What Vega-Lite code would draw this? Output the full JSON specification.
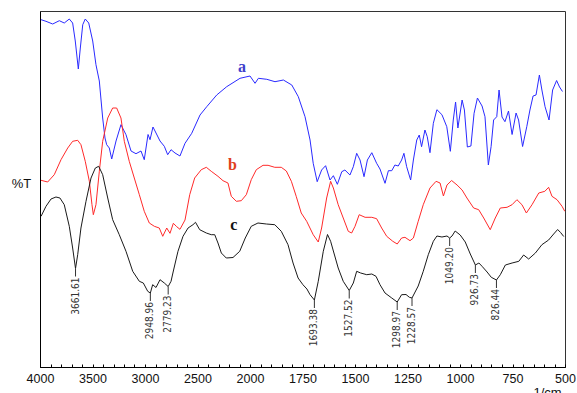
{
  "$schema": "https://vega.github.io/schema/vega-lite/v6.json",
  "width": 525,
  "height": 356,
  "autosize": "none",
  "padding": {"left": 40, "top": 11, "right": 12, "bottom": 26},
  "background": "white",
  "config": {"view": {"stroke": "#333", "strokeWidth": 1}},
  "data": {"values": [
    {"s":"a","w":3990,"t":347.3},{"s":"a","w":3943,"t":345.7},{"s":"a","w":3879,"t":343},{"s":"a","w":3816,"t":346.3},{"s":"a","w":3769,"t":344},{"s":"a","w":3721,"t":348},{"s":"a","w":3689,"t":344},{"s":"a","w":3664,"t":326},{"s":"a","w":3635,"t":298},{"s":"a","w":3616,"t":319},{"s":"a","w":3593,"t":342.3},{"s":"a","w":3569,"t":348},{"s":"a","w":3536,"t":344},{"s":"a","w":3498,"t":326},{"s":"a","w":3467,"t":302.3},{"s":"a","w":3435,"t":286},{"s":"a","w":3403,"t":249},{"s":"a","w":3381,"t":229},{"s":"a","w":3365,"t":222.3},{"s":"a","w":3340,"t":219},{"s":"a","w":3317,"t":208},{"s":"a","w":3276,"t":226},{"s":"a","w":3229,"t":242.3},{"s":"a","w":3181,"t":232.3},{"s":"a","w":3133,"t":216},{"s":"a","w":3086,"t":213.3},{"s":"a","w":3038,"t":216},{"s":"a","w":3007,"t":207.3},{"s":"a","w":2971,"t":232.5},{"s":"a","w":2952,"t":227.3},{"s":"a","w":2924,"t":240},{"s":"a","w":2895,"t":234},{"s":"a","w":2857,"t":226},{"s":"a","w":2816,"t":220.7},{"s":"a","w":2784,"t":212.3},{"s":"a","w":2752,"t":217.3},{"s":"a","w":2714,"t":214},{"s":"a","w":2667,"t":211},{"s":"a","w":2619,"t":223.7},{"s":"a","w":2555,"t":233.7},{"s":"a","w":2476,"t":252},{"s":"a","w":2412,"t":260.3},{"s":"a","w":2317,"t":272},{"s":"a","w":2222,"t":280.3},{"s":"a","w":2095,"t":288.7},{"s":"a","w":2000,"t":291},{"s":"a","w":1976,"t":283.7},{"s":"a","w":1960,"t":288.7},{"s":"a","w":1920,"t":287.7},{"s":"a","w":1881,"t":285.3},{"s":"a","w":1841,"t":287},{"s":"a","w":1801,"t":282},{"s":"a","w":1770,"t":270.3},{"s":"a","w":1738,"t":250.3},{"s":"a","w":1714,"t":227},{"s":"a","w":1699,"t":203.7},{"s":"a","w":1680,"t":185.3},{"s":"a","w":1659,"t":197},{"s":"a","w":1640,"t":201.3},{"s":"a","w":1619,"t":187},{"s":"a","w":1603,"t":191.3},{"s":"a","w":1584,"t":182.7},{"s":"a","w":1563,"t":195.3},{"s":"a","w":1548,"t":197},{"s":"a","w":1524,"t":192},{"s":"a","w":1508,"t":200.3},{"s":"a","w":1492,"t":213.7},{"s":"a","w":1476,"t":207},{"s":"a","w":1457,"t":190.3},{"s":"a","w":1441,"t":207},{"s":"a","w":1420,"t":214.3},{"s":"a","w":1397,"t":203.7},{"s":"a","w":1381,"t":198},{"s":"a","w":1357,"t":183.7},{"s":"a","w":1341,"t":196.3},{"s":"a","w":1325,"t":196.3},{"s":"a","w":1310,"t":202},{"s":"a","w":1294,"t":201},{"s":"a","w":1278,"t":207},{"s":"a","w":1267,"t":213.7},{"s":"a","w":1254,"t":200.3},{"s":"a","w":1235,"t":187},{"s":"a","w":1222,"t":207},{"s":"a","w":1206,"t":227},{"s":"a","w":1194,"t":232},{"s":"a","w":1183,"t":220.3},{"s":"a","w":1167,"t":237},{"s":"a","w":1156,"t":230.3},{"s":"a","w":1143,"t":214.3},{"s":"a","w":1127,"t":243.7},{"s":"a","w":1110,"t":257.3},{"s":"a","w":1086,"t":252.3},{"s":"a","w":1063,"t":240.3},{"s":"a","w":1046,"t":215.7},{"s":"a","w":1032,"t":247},{"s":"a","w":1021,"t":265},{"s":"a","w":1010,"t":239},{"s":"a","w":990,"t":267},{"s":"a","w":979,"t":257},{"s":"a","w":965,"t":220},{"s":"a","w":948,"t":221},{"s":"a","w":933,"t":253.7},{"s":"a","w":917,"t":269},{"s":"a","w":895,"t":261},{"s":"a","w":881,"t":250.3},{"s":"a","w":865,"t":202},{"s":"a","w":852,"t":220.3},{"s":"a","w":840,"t":247},{"s":"a","w":825,"t":250.3},{"s":"a","w":814,"t":277},{"s":"a","w":800,"t":250},{"s":"a","w":786,"t":245.3},{"s":"a","w":769,"t":256},{"s":"a","w":752,"t":232.5},{"s":"a","w":733,"t":254},{"s":"a","w":721,"t":247},{"s":"a","w":702,"t":220.5},{"s":"a","w":682,"t":240.3},{"s":"a","w":667,"t":257},{"s":"a","w":652,"t":271},{"s":"a","w":638,"t":272},{"s":"a","w":622,"t":292},{"s":"a","w":610,"t":277},{"s":"a","w":595,"t":260.3},{"s":"a","w":576,"t":247},{"s":"a","w":559,"t":277},{"s":"a","w":540,"t":286.5},{"s":"a","w":526,"t":280},{"s":"a","w":512,"t":275.5},

    {"s":"b","w":3990,"t":186.7},{"s":"b","w":3927,"t":185},{"s":"b","w":3864,"t":192.3},{"s":"b","w":3800,"t":207.3},{"s":"b","w":3736,"t":219},{"s":"b","w":3689,"t":225.7},{"s":"b","w":3641,"t":226.7},{"s":"b","w":3610,"t":222.3},{"s":"b","w":3569,"t":205.7},{"s":"b","w":3530,"t":185.7},{"s":"b","w":3505,"t":162.3},{"s":"b","w":3492,"t":152.3},{"s":"b","w":3467,"t":162.3},{"s":"b","w":3435,"t":195.7},{"s":"b","w":3403,"t":225.7},{"s":"b","w":3355,"t":249},{"s":"b","w":3308,"t":259},{"s":"b","w":3270,"t":259},{"s":"b","w":3229,"t":249},{"s":"b","w":3197,"t":225.7},{"s":"b","w":3150,"t":205.7},{"s":"b","w":3102,"t":189},{"s":"b","w":3054,"t":172.3},{"s":"b","w":3007,"t":155.7},{"s":"b","w":2959,"t":144},{"s":"b","w":2911,"t":140.7},{"s":"b","w":2864,"t":139},{"s":"b","w":2831,"t":130.7},{"s":"b","w":2793,"t":139},{"s":"b","w":2762,"t":133.7},{"s":"b","w":2730,"t":143.7},{"s":"b","w":2698,"t":140.3},{"s":"b","w":2667,"t":137.7},{"s":"b","w":2619,"t":147},{"s":"b","w":2574,"t":172.3},{"s":"b","w":2527,"t":189},{"s":"b","w":2464,"t":197.3},{"s":"b","w":2416,"t":199.7},{"s":"b","w":2369,"t":195.7},{"s":"b","w":2305,"t":190.7},{"s":"b","w":2257,"t":186.3},{"s":"b","w":2210,"t":184},{"s":"b","w":2178,"t":170.7},{"s":"b","w":2130,"t":165.7},{"s":"b","w":2083,"t":166.3},{"s":"b","w":2035,"t":172.3},{"s":"b","w":1994,"t":187.3},{"s":"b","w":1970,"t":197.3},{"s":"b","w":1938,"t":201.7},{"s":"b","w":1914,"t":201.7},{"s":"b","w":1882,"t":199.7},{"s":"b","w":1851,"t":199.7},{"s":"b","w":1827,"t":196},{"s":"b","w":1803,"t":185.7},{"s":"b","w":1780,"t":170.7},{"s":"b","w":1756,"t":154},{"s":"b","w":1730,"t":145.7},{"s":"b","w":1699,"t":132.3},{"s":"b","w":1675,"t":125},{"s":"b","w":1659,"t":139},{"s":"b","w":1635,"t":169},{"s":"b","w":1616,"t":185.7},{"s":"b","w":1603,"t":179},{"s":"b","w":1580,"t":162.3},{"s":"b","w":1556,"t":149},{"s":"b","w":1532,"t":135.7},{"s":"b","w":1516,"t":134},{"s":"b","w":1500,"t":140.7},{"s":"b","w":1480,"t":152.3},{"s":"b","w":1452,"t":149.7},{"s":"b","w":1420,"t":149.7},{"s":"b","w":1397,"t":148.3},{"s":"b","w":1373,"t":139},{"s":"b","w":1349,"t":130.7},{"s":"b","w":1320,"t":125.7},{"s":"b","w":1299,"t":123},{"s":"b","w":1278,"t":129},{"s":"b","w":1262,"t":129.7},{"s":"b","w":1238,"t":126.3},{"s":"b","w":1222,"t":129},{"s":"b","w":1199,"t":145.7},{"s":"b","w":1175,"t":162.3},{"s":"b","w":1143,"t":179},{"s":"b","w":1114,"t":185.7},{"s":"b","w":1095,"t":184},{"s":"b","w":1079,"t":171},{"s":"b","w":1062,"t":182},{"s":"b","w":1040,"t":186.5},{"s":"b","w":1014,"t":182},{"s":"b","w":990,"t":177},{"s":"b","w":967,"t":169},{"s":"b","w":935,"t":159},{"s":"b","w":911,"t":157.3},{"s":"b","w":887,"t":149},{"s":"b","w":856,"t":137.3},{"s":"b","w":832,"t":149},{"s":"b","w":808,"t":159},{"s":"b","w":776,"t":159.7},{"s":"b","w":752,"t":162.3},{"s":"b","w":729,"t":167.3},{"s":"b","w":705,"t":162.3},{"s":"b","w":684,"t":154},{"s":"b","w":657,"t":162.3},{"s":"b","w":625,"t":174},{"s":"b","w":596,"t":175.7},{"s":"b","w":578,"t":179.7},{"s":"b","w":562,"t":170.7},{"s":"b","w":538,"t":167.3},{"s":"b","w":514,"t":160.7},{"s":"b","w":501,"t":155.7},

    {"s":"c","w":3990,"t":150.7},{"s":"c","w":3943,"t":160.7},{"s":"c","w":3895,"t":168},{"s":"c","w":3848,"t":170},{"s":"c","w":3810,"t":169},{"s":"c","w":3769,"t":162.3},{"s":"c","w":3721,"t":140.7},{"s":"c","w":3689,"t":119},{"s":"c","w":3661.61,"t":98.5,"p":"3661.61"},{"s":"c","w":3641,"t":112.3},{"s":"c","w":3610,"t":139},{"s":"c","w":3562,"t":165.7},{"s":"c","w":3514,"t":189},{"s":"c","w":3473,"t":199},{"s":"c","w":3441,"t":200.7},{"s":"c","w":3403,"t":192.3},{"s":"c","w":3355,"t":169},{"s":"c","w":3308,"t":147.3},{"s":"c","w":3245,"t":132.3},{"s":"c","w":3181,"t":115.7},{"s":"c","w":3117,"t":95.7},{"s":"c","w":3054,"t":85.7},{"s":"c","w":3016,"t":84},{"s":"c","w":2974,"t":75.7},{"s":"c","w":2948.96,"t":74,"p":"2948.96"},{"s":"c","w":2927,"t":82.3},{"s":"c","w":2895,"t":79.5},{"s":"c","w":2857,"t":87.3},{"s":"c","w":2816,"t":84},{"s":"c","w":2779.23,"t":80.5,"p":"2779.23"},{"s":"c","w":2752,"t":85.7},{"s":"c","w":2730,"t":96},{"s":"c","w":2686,"t":115.7},{"s":"c","w":2638,"t":130.7},{"s":"c","w":2590,"t":139},{"s":"c","w":2543,"t":142.3},{"s":"c","w":2519,"t":144.7},{"s":"c","w":2479,"t":137.3},{"s":"c","w":2416,"t":134},{"s":"c","w":2369,"t":132.3},{"s":"c","w":2336,"t":132.3},{"s":"c","w":2305,"t":124},{"s":"c","w":2273,"t":114},{"s":"c","w":2226,"t":109},{"s":"c","w":2162,"t":109.5},{"s":"c","w":2098,"t":115.7},{"s":"c","w":2045,"t":129},{"s":"c","w":1994,"t":140.7},{"s":"c","w":1962,"t":144},{"s":"c","w":1922,"t":143},{"s":"c","w":1882,"t":142.3},{"s":"c","w":1851,"t":135.7},{"s":"c","w":1819,"t":122.3},{"s":"c","w":1795,"t":104},{"s":"c","w":1771,"t":89},{"s":"c","w":1748,"t":82.3},{"s":"c","w":1729,"t":78},{"s":"c","w":1714,"t":72.3},{"s":"c","w":1693.38,"t":67,"p":"1693.38"},{"s":"c","w":1675,"t":85.7},{"s":"c","w":1651,"t":115.7},{"s":"c","w":1631,"t":132.5},{"s":"c","w":1616,"t":125.7},{"s":"c","w":1603,"t":116},{"s":"c","w":1580,"t":99},{"s":"c","w":1556,"t":85.7},{"s":"c","w":1527.52,"t":76.5,"p":"1527.52"},{"s":"c","w":1508,"t":84},{"s":"c","w":1492,"t":95.7},{"s":"c","w":1473,"t":94},{"s":"c","w":1444,"t":92.3},{"s":"c","w":1420,"t":93},{"s":"c","w":1400,"t":90.7},{"s":"c","w":1381,"t":82.3},{"s":"c","w":1357,"t":74},{"s":"c","w":1325,"t":69},{"s":"c","w":1298.97,"t":65,"p":"1298.97"},{"s":"c","w":1278,"t":72.3},{"s":"c","w":1257,"t":72.5},{"s":"c","w":1241,"t":69.7},{"s":"c","w":1228.57,"t":69,"p":"1228.57"},{"s":"c","w":1199,"t":81},{"s":"c","w":1175,"t":95.7},{"s":"c","w":1151,"t":112.3},{"s":"c","w":1127,"t":125.7},{"s":"c","w":1110,"t":131},{"s":"c","w":1086,"t":130},{"s":"c","w":1062,"t":131},{"s":"c","w":1049.2,"t":129,"p":"1049.20"},{"s":"c","w":1038,"t":131},{"s":"c","w":1023,"t":136},{"s":"c","w":999,"t":132},{"s":"c","w":975,"t":125},{"s":"c","w":951,"t":113},{"s":"c","w":926.73,"t":102,"p":"926.73"},{"s":"c","w":910,"t":104},{"s":"c","w":895,"t":100.7},{"s":"c","w":871,"t":95},{"s":"c","w":851,"t":89.7},{"s":"c","w":826.44,"t":87,"p":"826.44"},{"s":"c","w":808,"t":92.3},{"s":"c","w":784,"t":102},{"s":"c","w":752,"t":104},{"s":"c","w":720,"t":105.7},{"s":"c","w":697,"t":112},{"s":"c","w":673,"t":108},{"s":"c","w":641,"t":114},{"s":"c","w":610,"t":122.3},{"s":"c","w":578,"t":127},{"s":"c","w":554,"t":133},{"s":"c","w":535,"t":137.5},{"s":"c","w":521,"t":134.5},{"s":"c","w":506,"t":130.5}
  ]},
  "encoding": {
    "x": {
      "field": "w", "type": "quantitative",
      "scale": {"domain": [4000, 2000, 500], "range": [0, 210, 525], "zero": false, "nice": false},
      "axis": {
        "title": "1/cm", "titleX": 507, "titleY": 29, "titleAlign": "center", "titleBaseline": "alphabetic", "titleAnchor": null,
        "titleFont": "Liberation Sans", "titleFontSize": 13, "titleFontWeight": "normal", "titleColor": "#111",
        "values": [4000,3900,3800,3700,3600,3500,3400,3300,3200,3100,3000,2900,2800,2700,2600,2500,2400,2300,2200,2100,2000,1950,1900,1850,1800,1750,1700,1650,1600,1550,1500,1450,1400,1350,1300,1250,1200,1150,1100,1050,1000,950,900,850,800,750,700,650,600,550,500],
        "format": "d",
        "labelExpr": "(datum.value >= 2000 && datum.value % 500 == 0) || (datum.value < 2000 && datum.value % 250 == 0) ? datum.label : ''",
        "labelFont": "Liberation Sans", "labelFontSize": 12.5, "labelColor": "#111",
        "labelFlush": false, "labelOverlap": false, "labelPadding": 8,
        "domainColor": "#000", "domainWidth": 1, "tickColor": "#000", "tickSize": -3, "grid": false
      }
    },
    "y": {
      "field": "t", "type": "quantitative",
      "scale": {"domain": [0, 356], "zero": false, "nice": false},
      "axis": {
        "title": "%T", "titleAngle": 0, "titleX": -19, "titleY": 172, "titleAlign": "center", "titleBaseline": "middle",
        "titleFont": "Liberation Sans", "titleFontSize": 13, "titleFontWeight": "normal", "titleColor": "#111",
        "labels": false, "ticks": false, "grid": false, "domainColor": "#000", "domainWidth": 1
      }
    }
  },
  "layer": [
    {
      "mark": {"type": "line", "strokeWidth": 1, "interpolate": "linear"},
      "encoding": {
        "color": {"field": "s", "type": "nominal", "scale": {"domain": ["a", "b", "c"], "range": ["#2a2aff", "#ff2a2a", "#1a1a1a"]}, "legend": null}
      }
    },
    {
      "transform": [{"filter": "datum.p"}],
      "mark": {"type": "rule", "color": "#333", "strokeWidth": 1, "y2Offset": 8},
      "encoding": {"y2": {"field": "t"}}
    },
    {
      "transform": [{"filter": "datum.p"}],
      "mark": {"type": "text", "angle": 270, "align": "right", "baseline": "middle", "dx": -9, "font": "DejaVu Sans Condensed, Liberation Sans", "fontSize": 10, "color": "#333"},
      "encoding": {"text": {"field": "p"}}
    },
    {
      "data": {"values": [
        {"s": "a", "w": 2076, "t": 300},
        {"s": "b", "w": 2167, "t": 202},
        {"s": "c", "w": 2154, "t": 142}
      ]},
      "mark": {"type": "text", "font": "Liberation Serif", "fontWeight": "bold", "fontSize": 16, "align": "center", "baseline": "middle"},
      "encoding": {
        "text": {"field": "s"},
        "color": {"field": "s", "type": "nominal", "scale": {"domain": ["a", "b", "c"], "range": ["#4040cc", "#e0401c", "#111111"]}, "legend": null}
      }
    }
  ],
  "resolve": {"scale": {"color": "independent"}}
}
